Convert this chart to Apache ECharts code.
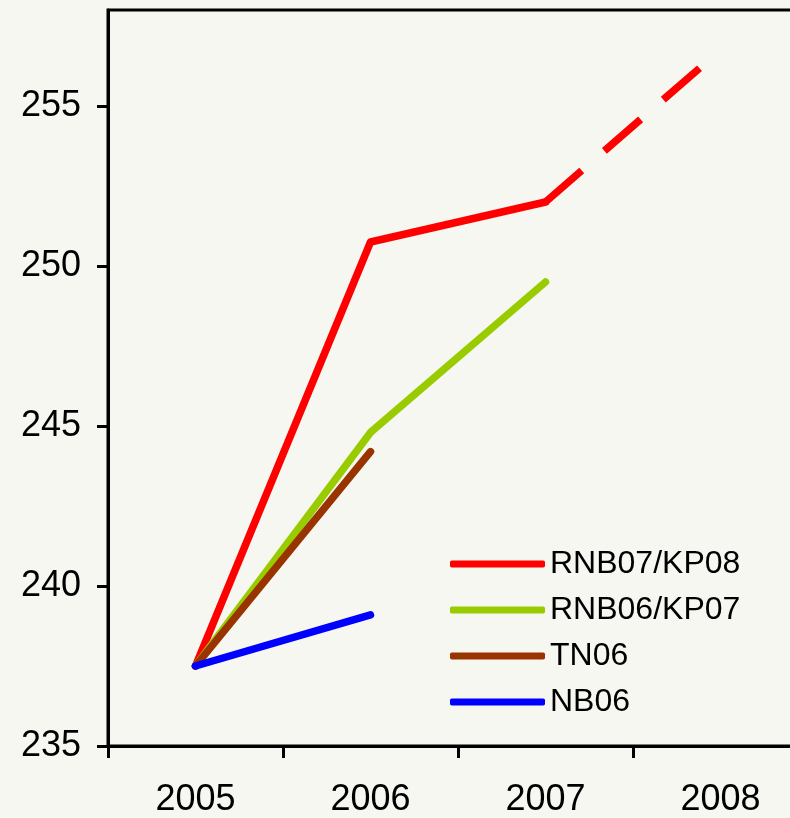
<!DOCTYPE html>
<html>
<head>
<meta charset="utf-8">
<script src="https://cdn.jsdelivr.net/npm/echarts@6/dist/echarts.min.js"></script>
<style>
html,body{margin:0;padding:0;background:#f7f7f1;overflow:hidden;}
#chart{width:810px;height:818px;}
</style>
</head>
<body>
<div id="chart"></div>
<script>
const years = ['2005', '2006', '2007', '2008'];
const rnb07kp08 = [237.5, 250.75, 252.0, null];
const rnb07kp08Proj = [null, null, 252.0, 256.75];
const rnb06kp07 = [237.5, 244.8, 249.5, null];
const tn06 = [237.5, 244.2, null, null];
const nb06 = [237.5, 239.1, null, null];
const yTicks = [235, 240, 245, 250, 255];
const legendNames = ['RNB07/KP08', 'RNB06/KP07', 'TN06', 'NB06'];

const chart = echarts.init(document.getElementById('chart'), null, {renderer: 'canvas'});

function solid(name, data, color) {
  return {
    name: name, type: 'line', data: data, symbol: 'none', connectNulls: false,
    lineStyle: {color: color, width: 7.5, cap: 'round', join: 'round'},
    itemStyle: {color: color},
    emphasis: {disabled: true}, animation: false
  };
}

chart.setOption({
  backgroundColor: '#f7f7f1',
  animation: false,
  grid: {
    left: 108, top: 10, bottom: 71, right: 2,
    show: true, borderColor: '#000', borderWidth: 3, backgroundColor: '#f7f7f1'
  },
  legend: {
    data: legendNames,
    orient: 'vertical',
    left: 450, top: 548,
    padding: 0,
    itemWidth: 95, itemHeight: 7, itemGap: 14,
    icon: 'roundRect',
    textStyle: {fontFamily: 'Liberation Sans, Arial, sans-serif', fontSize: 32, color: '#000', lineHeight: 31}
  },
  xAxis: {
    type: 'category',
    data: years,
    boundaryGap: true,
    axisLine: {show: true, lineStyle: {color: '#000', width: 3}},
    axisTick: {show: true, length: 12, lineStyle: {color: '#000', width: 3}},
    axisLabel: {fontFamily: 'Liberation Sans, Arial, sans-serif', fontSize: 36, color: '#000', margin: 36},
    splitLine: {show: false}
  },
  yAxis: {
    type: 'value',
    min: 235, max: 258, interval: 5,
    axisLine: {show: true, lineStyle: {color: '#000', width: 3}},
    axisTick: {show: true, length: 11, customValues: yTicks, lineStyle: {color: '#000', width: 3}},
    axisLabel: {fontFamily: 'Liberation Sans, Arial, sans-serif', fontSize: 36, color: '#000', margin: 27, customValues: yTicks},
    splitLine: {show: false}
  },
  series: [
    solid('RNB07/KP08', rnb07kp08, '#ff0000'),
    {
      name: 'RNB07/KP08 proj', type: 'line', data: rnb07kp08Proj, symbol: 'none',
      lineStyle: {color: '#ff0000', width: 7.5, type: [48, 30], cap: 'butt'},
      itemStyle: {color: '#ff0000'}, emphasis: {disabled: true}, animation: false
    },
    solid('RNB06/KP07', rnb06kp07, '#99cc00'),
    solid('TN06', tn06, '#993300'),
    solid('NB06', nb06, '#0000ff')
  ]
});
</script>
</body>
</html>
